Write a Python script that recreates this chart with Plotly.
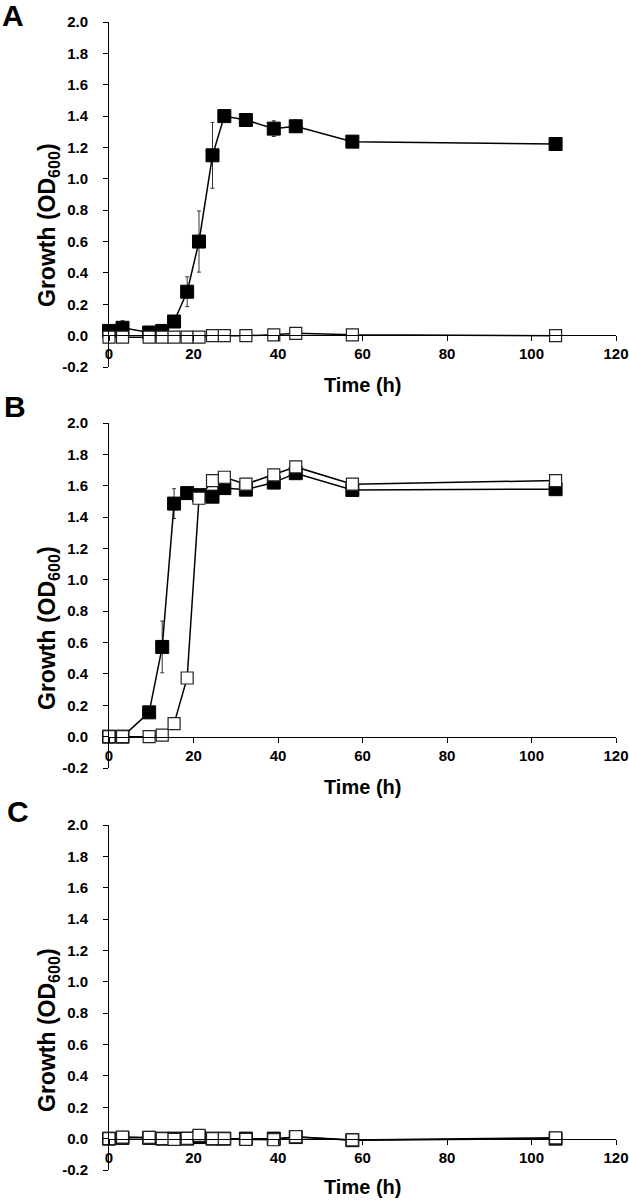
import plotly.graph_objects as go

# ---------------- data ----------------
TIME_H = [0, 3.2, 9.5, 12.6, 15.4, 18.5, 21.3, 24.5, 27.3, 32.4, 39.0, 44.2, 57.6, 105.7]

A_FILLED = [0.03, 0.05, 0.02, 0.03, 0.09, 0.28, 0.60, 1.15, 1.40, 1.375, 1.32, 1.335, 1.237, 1.222]
A_FILLED_ERR = [0.0, 0.045, 0.0, 0.0, 0.01, 0.095, 0.195, 0.21, 0.0, 0.02, 0.05, 0.04, 0.02, 0.01]
A_OPEN = [-0.01, -0.01, -0.01, -0.01, -0.01, -0.01, -0.01, 0.0, 0.0, 0.0, 0.005, 0.015, 0.005, 0.0]

B_FILLED = [0.0, 0.0, 0.155, 0.572, 1.486, 1.553, 1.54, 1.53, 1.585, 1.575, 1.62, 1.68, 1.573, 1.578]
B_FILLED_ERR = [0.0, 0.0, 0.01, 0.165, 0.095, 0.01, 0.01, 0.02, 0.02, 0.01, 0.01, 0.01, 0.01, 0.01]
B_OPEN = [0.0, 0.0, 0.0, 0.01, 0.083, 0.374, 1.52, 1.633, 1.654, 1.61, 1.669, 1.72, 1.61, 1.633]

C_FILLED = [0.0, 0.005, 0.005, 0.0, 0.0, 0.0, 0.01, 0.0, 0.0, 0.0, 0.0, 0.01, -0.01, 0.0]
C_FILLED_ERR = [0.0] * 14
C_OPEN = [0.0, 0.01, 0.008, 0.0, -0.005, 0.002, 0.021, 0.0, 0.0, -0.005, -0.007, 0.012, -0.008, 0.005]

PANEL_LABELS = ["A", "B", "C"]
X_TICKS = [0, 20, 40, 60, 80, 100, 120]
X_TICK_LABELS = ["0", "20", "40", "60", "80", "100", "120"]
Y_TICKS = [-0.2, 0.0, 0.2, 0.4, 0.6, 0.8, 1.0, 1.2, 1.4, 1.6, 1.8, 2.0]
Y_TICK_LABELS = ["-0.2", "0.0", "0.2", "0.4", "0.6", "0.8", "1.0", "1.2", "1.4", "1.6", "1.8", "2.0"]
X_TITLE = "Time (h)"
Y_TITLE = "Growth (OD<sub>600</sub>)"

# ---------------- layout geometry (pixels) ----------------
W, H = 629, 1200
FONT = "Liberation Sans, Arial, sans-serif"
X_LEFT, X_RIGHT = 109, 616
PANELS = [
    # top px, bottom px, zero px, y-title centre, x-title y, letter (x, y)
    dict(top=22, bottom=367, zero=335, ytc=225, xty=385, lx=13, ly=16),
    dict(top=423, bottom=768, zero=737, ytc=628, xty=787, lx=15, ly=407),
    dict(top=825, bottom=1170, zero=1139, ytc=1030, xty=1187, lx=18, ly=811),
]
SERIES = [
    (A_FILLED, A_FILLED_ERR, A_OPEN),
    (B_FILLED, B_FILLED_ERR, B_OPEN),
    (C_FILLED, C_FILLED_ERR, C_OPEN),
]


def px_x(p):
    return p / W


def px_y(p):
    return 1 - p / H


fig = go.Figure()
annotations = []
layout = dict(
    template="none",
    width=W, height=H, autosize=False,
    margin=dict(l=0, r=0, t=0, b=0, pad=0),
    paper_bgcolor="white", plot_bgcolor="white",
    showlegend=False,
    font=dict(family=FONT, color="black"),
)

for i, (geo, (filled, ferr, opn)) in enumerate(zip(PANELS, SERIES)):
    n = "" if i == 0 else str(i + 1)
    xa, ya = "x" + n, "y" + n

    fig.add_trace(go.Scatter(
        x=TIME_H, y=filled, xaxis=xa, yaxis=ya, mode="lines+markers",
        line=dict(color="black", width=1.5),
        marker=dict(symbol="square", size=13, color="black",
                    line=dict(color="black", width=1)),
        error_y=dict(type="data", array=ferr, visible=True,
                     color="#333333", thickness=1, width=2),
        cliponaxis=False,
    ))
    fig.add_trace(go.Scatter(
        x=TIME_H, y=opn, xaxis=xa, yaxis=ya, mode="lines+markers",
        line=dict(color="black", width=1.5),
        marker=dict(symbol="square", size=12, color="white",
                    line=dict(color="#222222", width=1.2)),
        cliponaxis=False,
    ))

    ydom = [px_y(geo["bottom"]), px_y(geo["top"])]
    layout["xaxis" + n] = dict(
        domain=[px_x(X_LEFT), px_x(X_RIGHT)],
        range=[0, 120], anchor="free", position=px_y(geo["zero"]),
        automargin=False,
        showline=True, linecolor="black", linewidth=1,
        ticks="outside", ticklen=5, tickwidth=1, tickcolor="black",
        tickvals=X_TICKS, ticktext=X_TICK_LABELS,
        tickfont=dict(family=FONT, size=15, color="black", weight="bold"),
        ticklabeloverflow="allow",
        showgrid=False, zeroline=False,
    )
    layout["yaxis" + n] = dict(
        domain=ydom, range=[-0.2, 2.0], anchor=xa,
        automargin=False,
        showline=True, linecolor="black", linewidth=1,
        ticks="outside", ticklen=5, tickwidth=1, tickcolor="black",
        tickvals=Y_TICKS, ticktext=Y_TICK_LABELS,
        tickfont=dict(family=FONT, size=15, color="black", weight="bold"),
        ticklabelstandoff=12, ticklabeloverflow="allow",
        showgrid=False, zeroline=False,
    )

    annotations.append(dict(
        text=X_TITLE, xref="paper", yref="paper",
        x=px_x((X_LEFT + X_RIGHT) / 2), y=px_y(geo["xty"]),
        xanchor="center", yanchor="middle", showarrow=False,
        font=dict(family=FONT, size=20, color="black", weight="bold"),
    ))
    annotations.append(dict(
        text=Y_TITLE, xref="paper", yref="paper", textangle=-90,
        x=px_x(48), y=px_y(geo["ytc"]),
        xanchor="center", yanchor="middle", showarrow=False,
        font=dict(family=FONT, size=23, color="black", weight="bold"),
    ))
    annotations.append(dict(
        text=PANEL_LABELS[i], xref="paper", yref="paper",
        x=px_x(geo["lx"]), y=px_y(geo["ly"]),
        xanchor="center", yanchor="middle", showarrow=False,
        font=dict(family=FONT, size=30, color="black", weight="bold"),
    ))

layout["annotations"] = annotations
fig.update_layout(**layout)
fig.write_html(
    "out.html",
    config={"displayModeBar": False},
    post_script="document.body.style.margin='0';document.body.style.padding='0';",
)
